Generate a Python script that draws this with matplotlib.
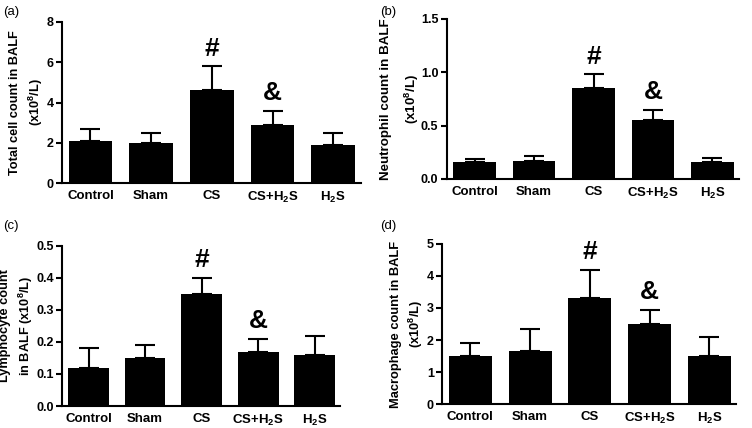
import matplotlib
matplotlib.use("Agg")
import matplotlib.pyplot as plt
import numpy as np

plt.rcParams['font.family'] = ['Liberation Sans', 'DejaVu Sans']
plt.rcParams['mathtext.fontset'] = 'custom'
plt.rcParams['mathtext.rm'] = 'Liberation Sans:bold'
plt.rcParams['mathtext.bf'] = 'Liberation Sans:bold'
plt.rcParams['mathtext.it'] = 'Liberation Sans:bold'

categories = ['Control', 'Sham', 'CS', r'CS+H$_\mathbf{2}$S', r'H$_\mathbf{2}$S']

total_mean = [2.1, 2.0, 4.6, 2.9, 1.9]
total_err = [0.6, 0.5, 1.2, 0.7, 0.6]

neut_mean = [0.16, 0.17, 0.85, 0.55, 0.16]
neut_err = [0.03, 0.04, 0.13, 0.10, 0.04]

lymph_mean = [0.12, 0.15, 0.35, 0.17, 0.16]
lymph_err = [0.06, 0.04, 0.05, 0.04, 0.06]

macro_mean = [1.5, 1.65, 3.3, 2.5, 1.5]
macro_err = [0.4, 0.7, 0.9, 0.45, 0.6]

panels = [
    dict(tag='(a)', mean=total_mean, err=total_err, ylim=8, ticks=[0, 2, 4, 6, 8],
         fmt='{:.0f}', ylabel='Total cell count in BALF\n(x10$^8$/L)',
         rect=[0.0824, 0.572, 0.397, 0.377], tagpos=(0.004, 0.985),
         lx=-0.118, ls=1.45, lfs=9.2),
    dict(tag='(b)', mean=neut_mean, err=neut_err, ylim=1.5, ticks=[0.0, 0.5, 1.0, 1.5],
         fmt='{:.1f}', ylabel='Neutrophil count in BALF\n(x10$^8$/L)',
         rect=[0.594, 0.582, 0.389, 0.374], tagpos=(0.506, 0.985),
         lx=-0.158, ls=1.75, lfs=9.6),
    dict(tag='(c)', mean=lymph_mean, err=lymph_err, ylim=0.5, ticks=[0.0, 0.1, 0.2, 0.3, 0.4, 0.5],
         fmt='{:.1f}', ylabel='Lymphocyte count\nin BALF (x10$^8$/L)',
         rect=[0.0824, 0.0514, 0.37, 0.374], tagpos=(0.004, 0.485),
         lx=-0.162, ls=1.45, lfs=9.2),
    dict(tag='(d)', mean=macro_mean, err=macro_err, ylim=5, ticks=[0, 1, 2, 3, 4, 5],
         fmt='{:.0f}', ylabel='Macrophage count in BALF\n(x10$^8$/L)',
         rect=[0.588, 0.056, 0.391, 0.374], tagpos=(0.506, 0.485),
         lx=-0.118, ls=1.4, lfs=9.3),
]

marks = {2: '#', 3: '&'}

fig = plt.figure(figsize=(7.52, 4.28), dpi=100)

for p in panels:
    ax = fig.add_axes(p['rect'])
    x = np.arange(len(categories))
    ax.bar(x, p['mean'], width=0.72, color='black', zorder=2)
    ax.errorbar(x, p['mean'], yerr=[np.zeros(len(x)), p['err']], fmt='none',
                ecolor='black', elinewidth=1.5, capsize=7, capthick=1.5, zorder=1)
    for i, sym in marks.items():
        top = p['mean'][i] + p['err'][i]
        ax.annotate(sym, (x[i], top), xytext=(0, 4), textcoords='offset points',
                    ha='center', va='bottom', fontsize=19, fontweight='bold')
    ax.set_xlim(-0.47, 4.45)
    ax.set_ylim(0, p['ylim'])
    ax.set_yticks(p['ticks'])
    ax.set_yticklabels([p['fmt'].format(t) for t in p['ticks']], fontweight='bold', fontsize=9)
    ax.set_xticks(x)
    ax.set_xticklabels(categories, fontweight='bold', fontsize=9.5)
    ax.tick_params(axis='x', length=0, pad=5)
    ax.tick_params(axis='y', length=4, width=1.5, direction='out', pad=2)
    for s in ['top', 'right']:
        ax.spines[s].set_visible(False)
    for s in ['left', 'bottom']:
        ax.spines[s].set_linewidth(1.5)
    ax.set_ylabel(p['ylabel'], fontweight='bold', fontsize=p['lfs'], linespacing=p['ls'],
                  va='center', ha='center')
    ax.yaxis.set_label_coords(p['lx'], 0.5)
    fig.text(p['tagpos'][0], p['tagpos'][1], p['tag'], fontsize=9.5, va='top', ha='left')

fig.savefig('out.png', dpi=100)
